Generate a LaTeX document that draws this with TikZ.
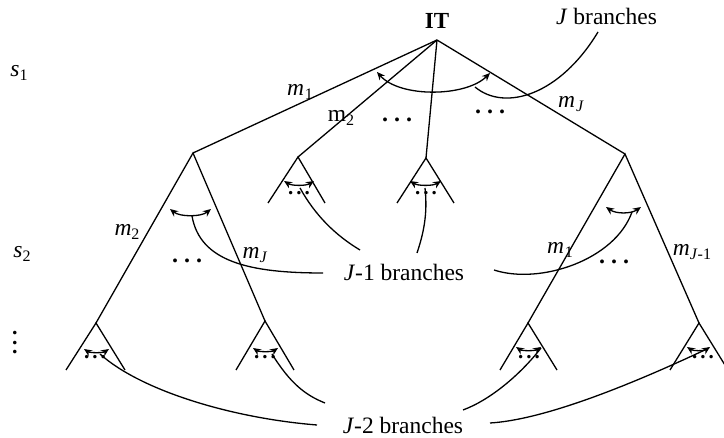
\documentclass[tikz,border=0pt]{standalone}
\usepackage{fontspec}
\setmainfont{Liberation Serif}
\usetikzlibrary{arrows.meta}
\newcommand{\mysub}[1]{\raisebox{-0.45ex}{\fontsize{16}{16}\selectfont #1}}
\newcommand{\mydots}{.\hspace{6pt}.\hspace{6pt}.}
\newcommand{\mysdots}{.\hspace{3pt}.\hspace{3pt}.}
\tikzset{
  edge/.style={line width=1.3pt, black},
  arcarrow/.style={line width=1.3pt, black, {Stealth[length=8pt,width=7pt]}-{Stealth[length=8pt,width=7pt]}},
  pointer/.style={line width=1.3pt, black},
  lbl/.style={inner sep=0pt, font=\fontsize{23.5}{26}\selectfont},
  dotlbl/.style={inner sep=0pt, font=\fontsize{24}{26}\selectfont\bfseries},
  sdotlbl/.style={inner sep=0pt, font=\fontsize{21}{24}\selectfont\bfseries}
}
\begin{document}
\begin{tikzpicture}[x=1pt,y=-1pt]
\useasboundingbox (0,0) rectangle (724,438);
% tree vertices
\coordinate (R) at (437,40);
\coordinate (A1) at (193,153);
\coordinate (A2) at (298,157);
\coordinate (A3) at (426,158);
\coordinate (AJ) at (625,154);
\coordinate (A2l) at (268,203);
\coordinate (A2r) at (325,203);
\coordinate (A3l) at (397,203);
\coordinate (A3r) at (454,203);
\coordinate (B1) at (96,323);
\coordinate (B2) at (265,321);
\coordinate (B1l) at (66,370);
\coordinate (B1r) at (125,370);
\coordinate (B2l) at (236,370);
\coordinate (B2r) at (294,370);
\coordinate (C1) at (528,323);
\coordinate (C2) at (699,323);
\coordinate (C1l) at (500,370);
\coordinate (C1r) at (557,370);
\coordinate (C2l) at (670,370);
\coordinate (C2r) at (728,370);
% edges
\draw[edge] (R) -- (A1);
\draw[edge] (R) -- (A2);
\draw[edge] (R) -- (A3);
\draw[edge] (R) -- (AJ);
\draw[edge] (A2l) -- (A2) -- (A2r);
\draw[edge] (A3l) -- (A3) -- (A3r);
\draw[edge] (B1) -- (A1) -- (B2);
\draw[edge] (B1l) -- (B1) -- (B1r);
\draw[edge] (B2l) -- (B2) -- (B2r);
\draw[edge] (C1) -- (AJ) -- (C2);
\draw[edge] (C1l) -- (C1) -- (C1r);
\draw[edge] (C2l) -- (C2) -- (C2r);
% labels
\node[lbl, font=\fontsize{23}{26}\selectfont\bfseries] (IT) at (437,21) {IT};
\node[lbl, anchor=west] (Jb) at (556,16) {\textit{J} branches};
\node[lbl] (J1b) at (404,272) {\textit{J}-1 branches};
\node[lbl] (J2b) at (403,425) {\textit{J}-2 branches};
\node[lbl] (s1) at (19,73) {\textit{s}\mysub{1}};
\node[lbl] (s2) at (22,254) {\textit{s}\mysub{2}};
\node[inner sep=0pt, align=center, font=\fontsize{22}{9.5}\selectfont\bfseries] (vd) at (15,343) {.\\.\\.};
\node[lbl] (m1a) at (300,92) {\textit{m}\hspace{1pt}\mysub{1}};
\node[lbl] (m2a) at (341,118) {m\mysub{2}};
\node[lbl] (mJa) at (571,104) {\textit{m}\hspace{1pt}\mysub{\textit{J}}};
\node[lbl] (m2b) at (127,232) {\textit{m}\mysub{2}};
\node[lbl] (mJb) at (255,255) {\textit{m}\mysub{\textit{J}}};
\node[lbl] (m1b) at (560,250) {\textit{m}\hspace{1pt}\mysub{1}};
\node[lbl] (mJ1b) at (692,252) {\textit{m}\mysub{\textit{J}-1}};
% dots
\node[dotlbl] (d1) at (397,120) {\mydots};
\node[dotlbl] (d2) at (490,112) {\mydots};
\node[dotlbl] (d3) at (187,261) {\mydots};
\node[dotlbl] (d4) at (614,262) {\mydots};
\node[sdotlbl] (d5) at (299,193) {\mysdots};
\node[sdotlbl] (d6) at (426,193) {\mysdots};
\node[sdotlbl] (d7) at (95,357) {\mysdots};
\node[sdotlbl] (d8) at (265,357) {\mysdots};
\node[sdotlbl] (d9) at (529,357) {\mysdots};
\node[sdotlbl] (d10) at (703,357) {\mysdots};
% arcs with arrows
\coordinate (r1) at (377,72); \coordinate (r2) at (490,73);
\draw[arcarrow] (r1) .. controls (400,98) and (466,97) .. (r2);
\coordinate (a1l) at (170,209); \coordinate (a1r) at (211,209);
\draw[arcarrow] (a1l) .. controls (180,217) and (201,217) .. (a1r);
\coordinate (ajl) at (606,207); \coordinate (ajr) at (641,207);
\draw[arcarrow] (ajl) .. controls (616,214) and (631,214) .. (ajr);
\coordinate (a2l) at (284,181); \coordinate (a2r) at (314,181);
\draw[arcarrow] (a2l) .. controls (292,186) and (306,186) .. (a2r);
\coordinate (a3l) at (410,181); \coordinate (a3r) at (441,181);
\draw[arcarrow] (a3l) .. controls (418,186) and (433,186) .. (a3r);
\coordinate (b1l) at (84,349); \coordinate (b1r) at (109,349);
\draw[arcarrow] (b1l) .. controls (90,353) and (103,353) .. (b1r);
\coordinate (b2l) at (253,348); \coordinate (b2r) at (278,348);
\draw[arcarrow] (b2l) .. controls (259,352) and (272,352) .. (b2r);
\coordinate (c1l) at (516,347); \coordinate (c1r) at (541,347);
\draw[arcarrow] (c1l) .. controls (522,351) and (535,351) .. (c1r);
\coordinate (c2l) at (687,347); \coordinate (c2r) at (710,347);
\draw[arcarrow] (c2l) .. controls (693,351) and (704,351) .. (c2r);
% pointers
\coordinate (pJ) at (598,32); \coordinate (pJe) at (475,87);
\draw[pointer] (pJ) .. controls (560,95) and (505,112) .. (pJe);
\coordinate (pa1) at (192,216); \coordinate (pa1e) at (323,273);
\draw[pointer] (pa1) .. controls (200,262) and (250,273) .. (pa1e);
\coordinate (paj) at (632,212); \coordinate (paje) at (494,270);
\draw[pointer] (paj) .. controls (615,260) and (540,285) .. (paje);
\coordinate (pa2) at (300,188); \coordinate (pa2e) at (360,250);
\draw[pointer] (pa2) .. controls (315,215) and (335,235) .. (pa2e);
\coordinate (pa3) at (425,188); \coordinate (pa3e) at (417,253);
\draw[pointer] (pa3) .. controls (428,215) and (423,235) .. (pa3e);
\coordinate (pb1) at (100,354); \coordinate (pb1e) at (317,425);
\draw[pointer] (pb1) .. controls (140,390) and (230,418) .. (pb1e);
\coordinate (pb2) at (272,354); \coordinate (pb2e) at (325,403);
\draw[pointer] (pb2) .. controls (290,383) and (305,395) .. (pb2e);
\coordinate (pc1) at (541,348); \coordinate (pc1e) at (463,410);
\draw[pointer] (pc1) .. controls (520,375) and (490,400) .. (pc1e);
\coordinate (pc2) at (709,348); \coordinate (pc2e) at (490,423);
\draw[pointer] (pc2) .. controls (620,390) and (540,420) .. (pc2e);
\end{tikzpicture}
\end{document}
